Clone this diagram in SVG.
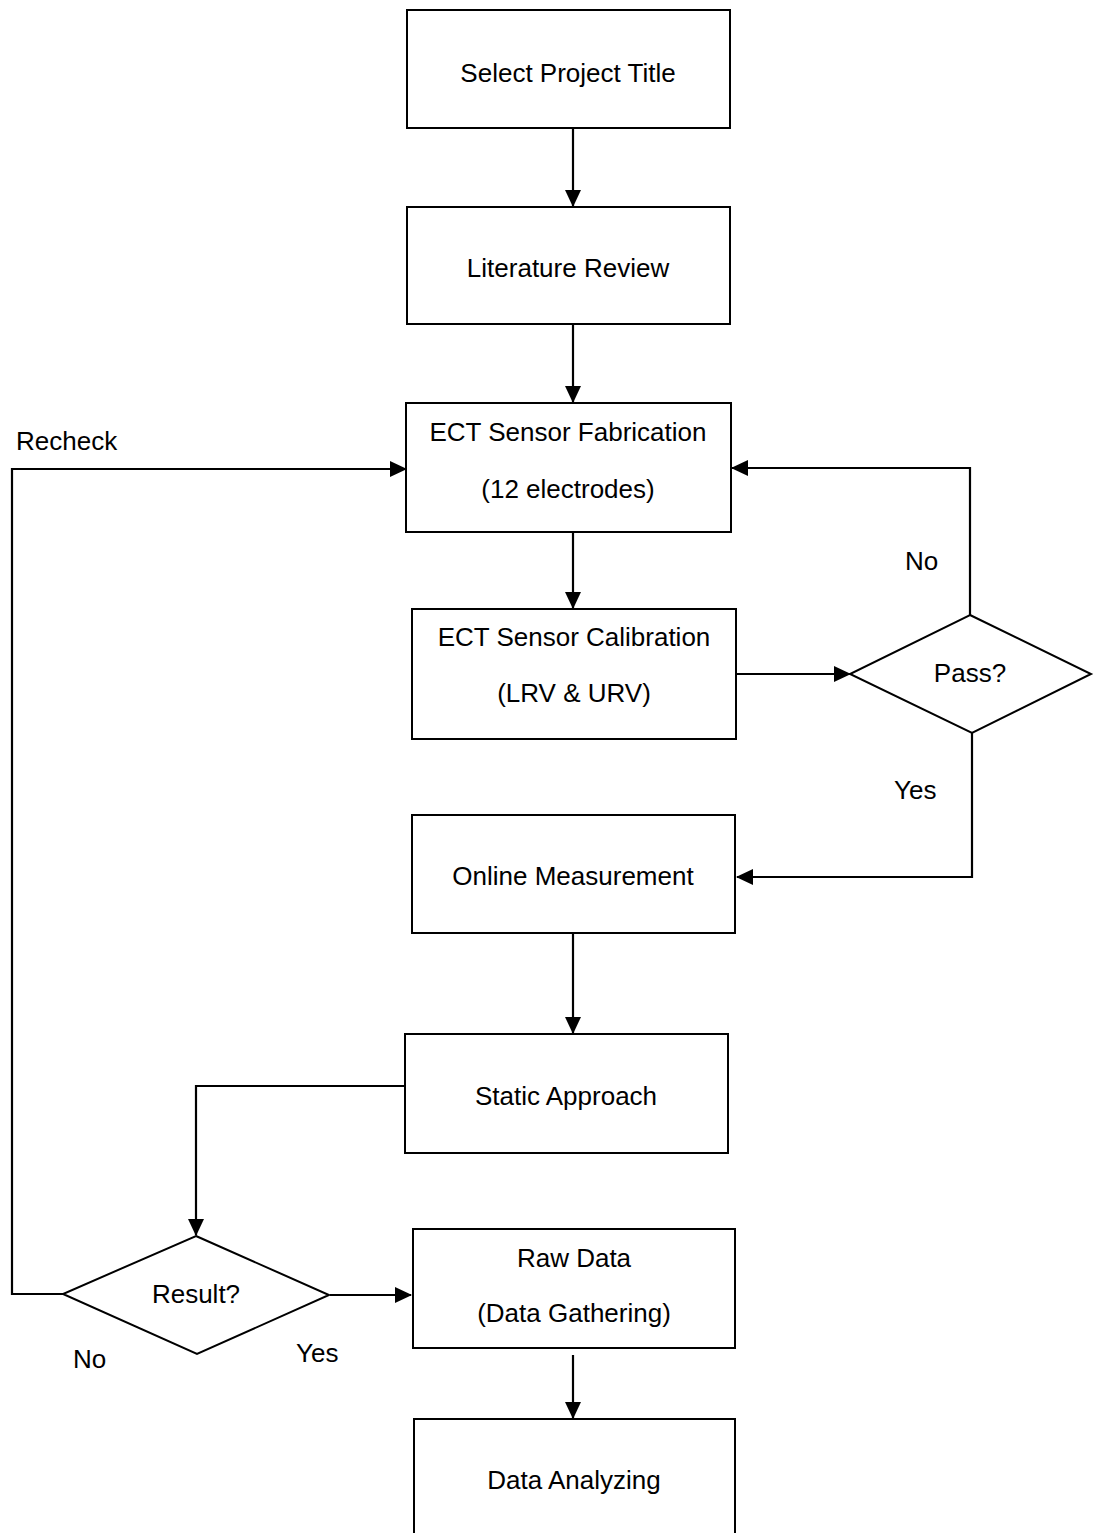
<svg xmlns="http://www.w3.org/2000/svg" width="1098" height="1533" viewBox="0 0 1098 1533">
<style>
.box{fill:#fff;stroke:#000;stroke-width:2}
.t{font-family:"Liberation Sans",Arial,sans-serif;font-size:26px;fill:#000;text-anchor:middle}
.l{font-family:"Liberation Sans",Arial,sans-serif;font-size:26px;fill:#000}
.c{fill:none;stroke:#000;stroke-width:2.2}
</style>
<defs>
<marker id="ah" markerUnits="userSpaceOnUse" markerWidth="17" markerHeight="16" refX="16" refY="8" orient="auto">
<path d="M0,0 L17,8 L0,16 Z" fill="#000"/>
</marker>
</defs>
<rect width="1098" height="1533" fill="#fff"/>
<g id="connectors">
<line class="c" x1="573" y1="128" x2="573" y2="206" marker-end="url(#ah)"/>
<line class="c" x1="573" y1="324" x2="573" y2="402" marker-end="url(#ah)"/>
<line class="c" x1="573" y1="532" x2="573" y2="608" marker-end="url(#ah)"/>
<line class="c" x1="736" y1="674" x2="850" y2="674" marker-end="url(#ah)"/>
<polyline class="c" points="970,615 970,468 732,468" marker-end="url(#ah)"/>
<polyline class="c" points="972,733 972,877 737,877" marker-end="url(#ah)"/>
<line class="c" x1="573" y1="933" x2="573" y2="1033" marker-end="url(#ah)"/>
<polyline class="c" points="405,1086 196,1086 196,1235" marker-end="url(#ah)"/>
<polyline class="c" points="63,1294 12,1294 12,469 406,469" marker-end="url(#ah)"/>
<line class="c" x1="330" y1="1295" x2="411" y2="1295" marker-end="url(#ah)"/>
<line class="c" x1="573" y1="1355" x2="573" y2="1418" marker-end="url(#ah)"/>
</g>
<g id="n1"><rect class="box" x="407" y="10" width="323" height="118"/><text class="t" x="568" y="82">Select Project Title</text></g>
<g id="n2"><rect class="box" x="407" y="207" width="323" height="117"/><text class="t" x="568" y="277">Literature Review</text></g>
<g id="n3"><rect class="box" x="406" y="403" width="325" height="129"/><text class="t" x="568" y="441">ECT Sensor Fabrication</text><text class="t" x="568" y="498">(12 electrodes)</text></g>
<g id="n4"><rect class="box" x="412" y="609" width="324" height="130"/><text class="t" x="574" y="646">ECT Sensor Calibration</text><text class="t" x="574" y="702">(LRV &amp; URV)</text></g>
<g id="d1"><polygon class="box" points="970,615 1091,674 972,733 850,674"/><text class="t" x="970" y="682">Pass?</text></g>
<g id="n5"><rect class="box" x="412" y="815" width="323" height="118"/><text class="t" x="573" y="885">Online Measurement</text></g>
<g id="n6"><rect class="box" x="405" y="1034" width="323" height="119"/><text class="t" x="566" y="1105">Static Approach</text></g>
<g id="d2"><polygon class="box" points="196,1236 329,1295 197,1354 63,1294"/><text class="t" x="196" y="1303">Result?</text></g>
<g id="n7"><rect class="box" x="413" y="1229" width="322" height="119"/><text class="t" x="574" y="1267">Raw Data</text><text class="t" x="574" y="1322">(Data Gathering)</text></g>
<g id="n8"><rect class="box" x="414" y="1419" width="321" height="130"/><text class="t" x="574" y="1489">Data Analyzing</text></g>
<g id="labels">
<text class="l" x="16" y="450">Recheck</text>
<text class="l" x="905" y="570">No</text>
<text class="l" x="894" y="799">Yes</text>
<text class="l" x="73" y="1368">No</text>
<text class="l" x="296" y="1362">Yes</text>
</g>
</svg>
